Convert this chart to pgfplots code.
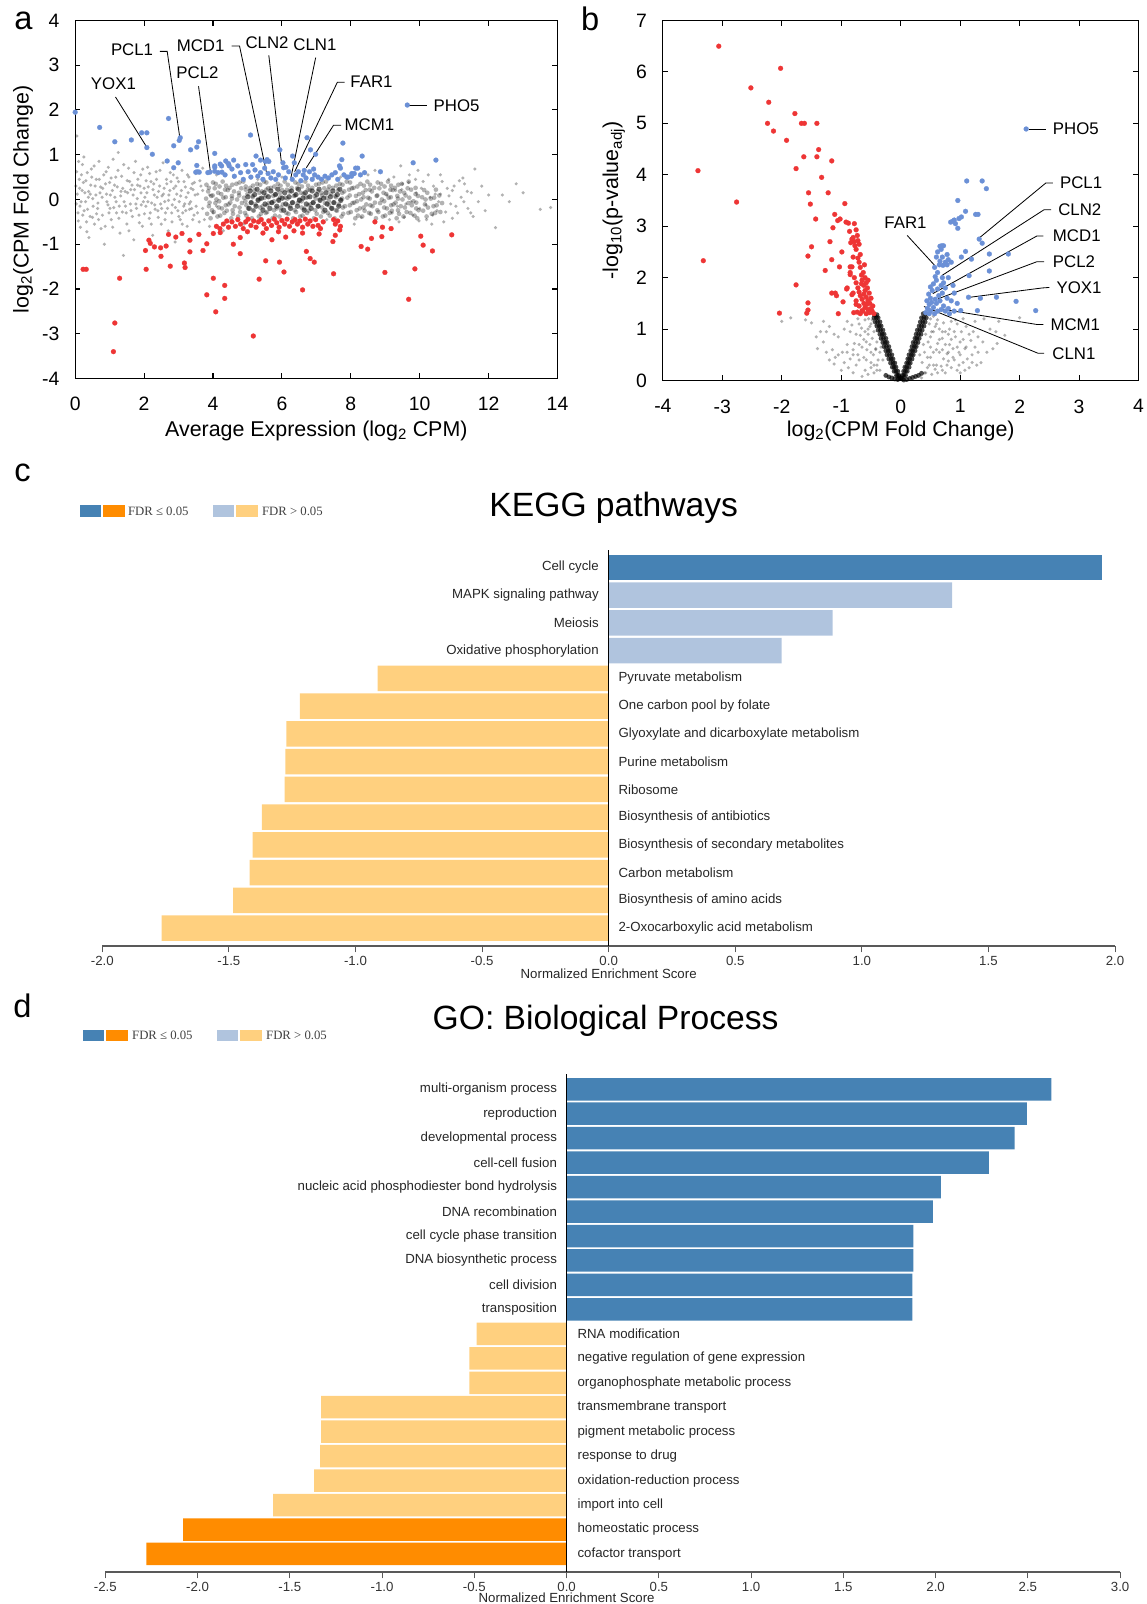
\documentclass[border=0pt]{standalone}
\usepackage{pgfplots}
\pgfplotsset{compat=1.18}
\usepackage{fontspec}
\setmainfont{Liberation Sans}
\newfontfamily\legserif{Liberation Serif}
\definecolor{kdb}{HTML}{4682B4}
\definecolor{klb}{HTML}{B0C4DE}
\definecolor{klo}{HTML}{FFD07F}
\definecolor{kdo}{HTML}{FF8C00}
\definecolor{dotb}{HTML}{6B90D6}
\definecolor{dotr}{HTML}{EE3535}
\newcommand{\fs}[1]{\fontsize{#1}{#1}\selectfont}
\tikzset{
  lead/.style={draw=black, line width=0.8bp},
  ann/.style={font=\fs{16.5}},
  bl/.style={font=\fs{13}, text=black!85},
}
\pgfplotsset{
  scat/.style={scale only axis, anchor=south west, clip=false,
    tick align=inside, major tick length=5bp,
    axis line style={line width=1.2bp},
    every tick/.style={black, line width=1bp},
    tick label style={font=\fs{19}},
    /pgf/number format/assume math mode=true,
    xticklabel style={yshift=-15bp}, yticklabel style={xshift=-12bp},
    label style={font=\fs{21}}},
  gsp/.style={only marks, mark=*, mark size=1.7bp, mark options={fill=black, draw=black, draw opacity=0, fill opacity=0.3}},
  gmd/.style={only marks, mark=*, mark size=2.3bp, mark options={fill=black, draw=black, draw opacity=0, fill opacity=0.3}},
  gdk/.style={only marks, mark=*, mark size=2.6bp, mark options={fill=black, draw=black, draw opacity=0, fill opacity=0.55}},
  bdot/.style={only marks, mark=*, mark size=2.4bp, mark options={fill=dotb, draw=dotb, line width=0.2bp}},
  rdot/.style={only marks, mark=*, mark size=2.4bp, mark options={fill=dotr, draw=dotr, line width=0.2bp}},
  bars/.style={scale only axis, anchor=south west, clip=false,
    axis x line=bottom, axis y line=none,
    x axis line style={-, draw=black!65, line width=2.2bp},
    xtick style={draw=black!65, line width=1bp}, tick align=outside, major tick length=6bp,
    tick label style={font=\fs{13}, text=black!80},
    /pgf/number format/assume math mode=true,
    xticklabel style={/pgf/number format/.cd, fixed, fixed zerofill, precision=1},
    ytick=\empty},
  bar/.style={xbar, bar width=0.92, bar shift=0pt, draw=none},
}
\begin{document}
\begin{tikzpicture}
\useasboundingbox (0,0) rectangle (1121bp,-1568bp);
% ---------------- panel a
\begin{axis}[scat, at={(73.5bp,-370bp)}, width=471.5bp, height=350bp,
  xmin=0, xmax=14, ymin=-4, ymax=4, xtick={0,2,...,14}, ytick={-4,...,4},
  xlabel={Average Expression (log\textsubscript{2} CPM)},
  ylabel={log\textsubscript{2}(CPM Fold Change)},
  every axis x label/.style={at={(axis description cs:0.5,0)}, anchor=center, yshift=-51bp, font=\fs{21}},
  every axis y label/.style={at={(axis description cs:0,0.5)}, rotate=90, anchor=center, yshift=51bp, font=\fs{21}}]
\addplot[gsp] coordinates {
(0.05,1.42)(0.1,0.85)(0.12,0.45)(0.08,-0.3)(0.15,-0.62)(0.2,0.2)(0.25,0.95)(0.3,-0.05)(0.35,0.6)(0.4,-0.85)(0.45,0.32)(0.5,-0.4)(0.55,0.75)(0.6,0.1)(0.65,-0.2)(0.7,0.45)(0.75,-0.65)(0.8,0.25)(0.85,-1.0)(0.9,0.62)(0.95,-0.12)(1.0,0.38)(1.05,-0.45)(1.1,0.9)(1.15,0.05)(1.2,-0.3)(1.25,1.05)(1.3,-0.75)(1.35,0.52)(1.4,-1.25)(1.45,0.18)(1.5,-0.55)(1.55,0.7)(1.6,-0.1)(1.65,0.32)(1.7,-0.9)(1.75,0.85)(1.8,0.02)(1.85,-0.35)(1.9,0.55)(1.95,-0.6)(2.0,0.25)(2.05,-0.15)(2.1,0.72)(2.15,-0.42)(2.2,0.4)(2.25,-0.8)(2.3,0.1)(2.35,0.62)(2.4,-0.25)(2.45,0.3)(2.5,-0.55)(2.55,0.82)(2.6,-0.05)(2.65,0.45)(2.7,-0.7)(2.75,0.2)(2.8,-0.3)(2.85,0.55)(2.9,-0.95)(2.95,0.12)(3.0,0.4)(3.05,-0.45)(3.1,0.65)(3.15,-0.15)(3.2,0.28)(3.25,-0.6)(3.3,0.5)(3.35,-0.05)(3.4,0.35)(3.45,-0.35)(3.5,0.58)
(0.02,0.3)(0.03,-0.1)(0.18,0.55)(0.22,-0.35)(0.28,0.15)(0.33,-0.5)(0.38,0.05)(0.48,0.5)(0.52,-0.15)(0.58,0.3)(0.68,-0.45)(0.72,0.15)(0.88,0.35)(0.98,-0.3)(1.08,0.2)(1.18,0.5)(1.28,-0.15)(1.38,0.25)(1.48,-0.3)(1.58,0.4)(1.68,0.1)(1.78,-0.2)(1.88,0.3)(1.98,-0.05)(2.08,0.15)(2.18,-0.3)(2.28,0.35)(2.38,0.05)(2.48,-0.1)(2.58,0.25)(2.68,-0.2)(2.78,0.4)(2.88,0.0)(2.98,-0.25)(3.08,0.2)(3.18,-0.1)(3.28,0.15)(3.38,-0.2)(3.48,0.1)
(0.06,0.12)(0.14,-0.15)(0.24,0.38)(0.36,-0.22)(0.44,0.12)(0.62,-0.32)(0.78,0.05)(0.92,-0.05)(1.02,0.1)(1.12,-0.18)(1.22,0.28)(1.32,0.08)(1.42,-0.05)(1.52,0.15)(1.62,-0.25)(1.72,0.22)(1.82,0.45)(1.92,-0.12)(2.02,0.05)(2.12,0.28)(2.22,-0.08)(2.32,-0.22)(2.42,0.18)(2.52,0.08)(2.62,-0.3)(2.72,0.1)(2.82,-0.12)(2.92,0.3)(3.02,-0.05)(3.12,-0.3)(3.22,0.05)(3.32,-0.22)(3.42,0.22)
(0.04,0.62)(0.09,-0.48)(0.13,0.25)(0.17,-0.05)(0.21,0.78)(0.26,-0.25)(0.31,0.42)(0.34,-0.72)(0.39,0.18)(0.43,-0.38)(0.47,0.68)(0.51,0.02)(0.56,-0.55)(0.61,0.45)(0.66,-0.08)(0.69,0.85)(0.74,0.28)(0.79,-0.35)(0.83,0.55)(0.87,-0.6)(0.91,0.12)(0.96,0.72)(1.01,-0.2)(1.04,0.48)(1.09,-0.62)(1.14,0.32)(1.19,-0.05)(1.24,0.65)(1.27,-0.42)(1.33,0.18)(1.37,-0.28)(1.41,0.78)(1.46,-0.15)(1.51,0.42)(1.56,-0.7)(1.61,0.22)(1.66,-0.38)(1.71,0.6)(1.76,-0.1)(1.81,0.32)(1.86,-0.52)(1.91,0.15)(1.96,0.68)(2.01,-0.32)(2.06,0.42)(2.11,-0.05)(2.16,0.58)(2.21,-0.55)(2.26,0.22)(2.31,-0.12)(2.36,0.45)(2.41,-0.4)(2.46,0.65)(2.51,-0.2)(2.56,0.12)(2.61,-0.45)(2.66,0.35)(2.71,-0.02)(2.76,0.6)(2.81,-0.5)(2.86,0.25)(2.91,-0.18)(2.96,0.48)(3.01,-0.38)(3.06,0.08)(3.11,-0.55)(3.16,0.4)(3.21,-0.25)(3.26,0.55)(3.31,-0.1)(3.36,0.25)(3.41,-0.45)(3.46,0.38)(3.51,-0.15)(3.56,0.12)(3.6,-0.5)(3.65,0.3)(3.7,-0.2)
(9.1,0.45)(9.2,-0.3)(9.3,0.2)(9.4,-0.5)(9.5,0.35)(9.6,-0.1)(9.7,0.55)(9.8,-0.35)(9.9,0.15)(10.0,-0.2)(10.1,0.4)(10.2,-0.45)(10.3,0.05)(10.4,0.3)(10.5,-0.25)(10.6,0.12)(10.7,-0.5)(10.8,0.25)(10.9,-0.1)(11.0,0.3)(11.1,-0.3)(11.2,0.05)(11.3,0.35)(11.4,-0.2)(11.5,0.15)(11.6,0.68)(11.7,-0.05)(11.8,0.3)(11.9,-0.25)(12.0,0.1)(12.2,-0.63)(12.4,0.1)(12.6,-0.05)(12.8,0.35)(13.0,0.15)(13.5,-0.22)(13.8,-0.18)(9.95,0.65)(10.35,-0.55)(9.45,0.75)(9.15,-0.65)(10.6,0.55)(10.95,-0.42)(11.25,0.48)(11.55,-0.38)
(9.05,0.1)(9.12,-0.45)(9.25,0.5)(9.35,-0.15)(9.48,0.22)(9.55,-0.4)(9.68,0.38)(9.75,-0.05)(9.88,0.45)(9.98,-0.48)(10.05,0.25)(10.18,-0.12)(10.25,0.55)(10.38,-0.35)(10.45,0.12)(10.55,-0.05)(10.65,0.4)(10.75,-0.28)(10.85,0.08)(10.95,0.2)(11.05,-0.15)(11.15,0.42)(11.28,-0.05)(11.38,0.18)(11.48,-0.3)
(3.7,0.7)(3.9,-0.6)(4.1,0.55)(4.3,-0.7)(4.6,0.5)(4.9,-0.55)(5.3,0.45)(5.6,-0.45)(6.0,0.5)(6.4,-0.5)(6.9,0.48)(7.3,-0.45)(7.7,0.5)(8.1,-0.55)(8.5,0.55)(8.9,-0.6)(8.7,0.65)(8.3,-0.4)(3.6,-0.8)(4.4,0.8)(4.0,-0.3)(3.7,0.2)(3.9,0.1)(4.1,-0.15)(3.55,-0.3)(3.62,0.42)(3.75,-0.45)
};
\addplot[gmd] coordinates {
(3.83,-0.32)(3.88,-0.15)(3.80,0.02)(3.86,0.18)(3.81,0.33)
(4.02,-0.28)(4.07,-0.08)(3.99,0.09)(4.05,0.25)(4.00,0.38)
(4.21,-0.36)(4.26,-0.20)(4.18,-0.04)(4.24,0.12)(4.19,0.29)
(4.40,-0.25)(4.45,-0.11)(4.37,0.05)(4.43,0.21)(4.38,0.31)
(4.58,-0.32)(4.63,-0.15)(4.55,0.02)(4.61,0.18)(4.56,0.33)
(4.79,-0.28)(4.84,-0.08)(4.76,0.09)(4.82,0.25)(4.77,0.38)
(4.97,-0.36)(5.02,-0.20)(4.94,-0.04)(5.00,0.12)(4.95,0.29)
(5.18,-0.25)(5.23,-0.11)(5.15,0.05)(5.21,0.21)(5.16,0.31)
(5.39,-0.32)(5.44,-0.15)(5.36,0.02)(5.42,0.18)(5.37,0.33)
(5.57,-0.28)(5.62,-0.08)(5.54,0.09)(5.60,0.25)(5.55,0.38)
(5.80,-0.36)(5.85,-0.20)(5.77,-0.04)(5.83,0.12)(5.78,0.29)
(5.98,-0.25)(6.03,-0.11)(5.95,0.05)(6.01,0.21)(5.96,0.31)
(6.19,-0.32)(6.24,-0.15)(6.16,0.02)(6.22,0.18)(6.17,0.33)
(6.41,-0.28)(6.46,-0.08)(6.38,0.09)(6.44,0.25)(6.39,0.38)
(6.60,-0.36)(6.65,-0.20)(6.57,-0.04)(6.63,0.12)(6.58,0.29)
(6.78,-0.25)(6.83,-0.11)(6.75,0.05)(6.81,0.21)(6.76,0.31)
(7.01,-0.32)(7.06,-0.15)(6.98,0.02)(7.04,0.18)(6.99,0.33)
(7.20,-0.28)(7.25,-0.08)(7.17,0.09)(7.23,0.25)(7.18,0.38)
(7.39,-0.36)(7.44,-0.20)(7.36,-0.04)(7.42,0.12)(7.37,0.29)
(7.60,-0.25)(7.65,-0.11)(7.57,0.05)(7.63,0.21)(7.58,0.31)
(7.78,-0.32)(7.83,-0.15)(7.75,0.02)(7.81,0.18)(7.76,0.33)
(8.00,-0.28)(8.05,-0.08)(7.97,0.09)(8.03,0.25)(7.98,0.38)
(8.21,-0.36)(8.26,-0.20)(8.18,-0.04)(8.24,0.12)(8.19,0.29)
(8.40,-0.25)(8.45,-0.11)(8.37,0.05)(8.43,0.21)(8.38,0.31)
(8.58,-0.32)(8.63,-0.15)(8.55,0.02)(8.61,0.18)(8.56,0.33)
(8.80,-0.28)(8.85,-0.08)(8.77,0.09)(8.83,0.25)(8.78,0.38)
(9.00,-0.36)(9.05,-0.20)(8.97,-0.04)(9.03,0.12)(8.98,0.29)
(9.19,-0.25)(9.24,-0.11)(9.16,0.05)(9.22,0.21)(9.17,0.31)
(9.40,-0.32)(9.45,-0.15)(9.37,0.02)(9.43,0.18)(9.38,0.33)
(9.62,-0.28)(9.67,-0.08)(9.59,0.09)(9.65,0.25)
(9.85,-0.36)(9.90,-0.20)(9.82,-0.04)(9.88,0.12)
(10.10,-0.25)(10.15,-0.11)(10.07,0.05)(10.13,0.21)
(10.35,-0.32)(10.40,-0.15)(10.32,0.02)
(10.60,-0.28)(10.65,-0.08)(10.57,0.09)
(3.93,-0.42)(3.97,-0.24)(3.90,-0.07)(3.95,0.08)(3.88,0.26)
(4.13,-0.38)(4.17,-0.18)(4.10,0.00)(4.15,0.15)(4.08,0.35)
(4.33,-0.30)(4.37,-0.13)(4.30,0.04)(4.35,0.22)(4.28,0.40)
(4.53,-0.42)(4.57,-0.24)(4.50,-0.07)(4.55,0.08)(4.48,0.26)
(4.73,-0.38)(4.77,-0.18)(4.70,0.00)(4.75,0.15)(4.68,0.35)
(4.93,-0.30)(4.97,-0.13)(4.90,0.04)(4.95,0.22)(4.88,0.40)
(5.13,-0.42)(5.17,-0.24)(5.10,-0.07)(5.15,0.08)(5.08,0.26)
(5.33,-0.38)(5.37,-0.18)(5.30,0.00)(5.35,0.15)(5.28,0.35)
(5.53,-0.30)(5.57,-0.13)(5.50,0.04)(5.55,0.22)(5.48,0.40)
(5.73,-0.42)(5.77,-0.24)(5.70,-0.07)(5.75,0.08)(5.68,0.26)
(5.93,-0.38)(5.97,-0.18)(5.90,0.00)(5.95,0.15)(5.88,0.35)
(6.13,-0.30)(6.17,-0.13)(6.10,0.04)(6.15,0.22)(6.08,0.40)
(6.33,-0.42)(6.37,-0.24)(6.30,-0.07)(6.35,0.08)(6.28,0.26)
(6.53,-0.38)(6.57,-0.18)(6.50,0.00)(6.55,0.15)(6.48,0.35)
(6.73,-0.30)(6.77,-0.13)(6.70,0.04)(6.75,0.22)(6.68,0.40)
(6.93,-0.42)(6.97,-0.24)(6.90,-0.07)(6.95,0.08)(6.88,0.26)
(7.13,-0.38)(7.17,-0.18)(7.10,0.00)(7.15,0.15)(7.08,0.35)
(7.33,-0.30)(7.37,-0.13)(7.30,0.04)(7.35,0.22)(7.28,0.40)
(7.53,-0.42)(7.57,-0.24)(7.50,-0.07)(7.55,0.08)(7.48,0.26)
(7.73,-0.38)(7.77,-0.18)(7.70,0.00)(7.75,0.15)(7.68,0.35)
(7.93,-0.30)(7.97,-0.13)(7.90,0.04)(7.95,0.22)(7.88,0.40)
(8.13,-0.42)(8.17,-0.24)(8.10,-0.07)(8.15,0.08)(8.08,0.26)
(8.33,-0.38)(8.37,-0.18)(8.30,0.00)(8.35,0.15)(8.28,0.35)
(8.53,-0.30)(8.57,-0.13)(8.50,0.04)(8.55,0.22)(8.48,0.40)
(8.73,-0.42)(8.77,-0.24)(8.70,-0.07)(8.75,0.08)(8.68,0.26)
(8.93,-0.38)(8.97,-0.18)(8.90,0.00)(8.95,0.15)(8.88,0.35)
(9.13,-0.30)(9.17,-0.13)(9.10,0.04)(9.15,0.22)(9.08,0.40)
(9.33,-0.42)(9.37,-0.24)(9.30,-0.07)(9.35,0.08)(9.28,0.26)
(9.53,-0.38)(9.57,-0.18)(9.50,0.00)(9.55,0.15)(9.48,0.35)
(9.73,-0.30)(9.77,-0.13)(9.70,0.04)(9.75,0.22)(9.68,0.40)
(9.93,-0.42)(9.97,-0.24)(9.90,-0.07)(9.95,0.08)(9.88,0.26)
(10.20,-0.38)(10.24,-0.18)(10.17,0.00)(10.22,0.15)
(10.45,-0.30)(10.49,-0.13)(10.42,0.04)(10.47,0.22)
};
\addplot[gdk] coordinates {
(5.05,-0.20)(5.11,-0.07)(5.01,0.06)(5.08,0.19)
(5.25,-0.15)(5.31,-0.02)(5.21,0.11)(5.28,0.23)
(5.45,-0.24)(5.51,-0.10)(5.41,0.03)(5.48,0.15)
(5.65,-0.20)(5.71,-0.07)(5.61,0.06)(5.68,0.19)
(5.85,-0.15)(5.91,-0.02)(5.81,0.11)(5.88,0.23)
(6.05,-0.24)(6.11,-0.10)(6.01,0.03)(6.08,0.15)
(6.25,-0.20)(6.31,-0.07)(6.21,0.06)(6.28,0.19)
(6.45,-0.15)(6.51,-0.02)(6.41,0.11)(6.48,0.23)
(6.65,-0.24)(6.71,-0.10)(6.61,0.03)(6.68,0.15)
(6.85,-0.20)(6.91,-0.07)(6.81,0.06)(6.88,0.19)
(7.05,-0.15)(7.11,-0.02)(7.01,0.11)(7.08,0.23)
(7.25,-0.24)(7.31,-0.10)(7.21,0.03)(7.28,0.15)
(7.45,-0.20)(7.51,-0.07)(7.41,0.06)(7.48,0.19)
(7.65,-0.15)(7.71,-0.02)(7.61,0.11)(7.68,0.23)
};
\addplot[bdot] coordinates {
(0.0,1.95)(0.71,1.61)(1.15,1.29)(1.63,1.33)(1.93,1.49)(2.08,1.49)(2.08,1.16)(2.24,1.01)(2.71,1.81)(2.67,0.86)(2.86,1.2)(2.99,0.82)(3.05,1.38)(3.02,1.32)(2.86,0.71)(3.35,1.11)(3.53,1.17)(3.58,1.29)(3.53,0.76)(3.5,0.61)(3.6,0.61)(3.91,0.61)(4.05,1.03)(4.05,0.75)(4.21,0.79)(4.37,0.86)(4.47,0.75)(4.05,0.63)(4.26,0.61)(5.09,1.44)(5.25,0.97)(5.57,0.89)(5.62,0.85)(5.94,1.11)(6.03,0.82)(6.05,0.71)(6.31,0.97)(6.36,0.82)(6.73,1.38)(6.83,1.11)(6.98,1.01)(7.77,1.26)(7.74,0.89)(7.67,0.75)(8.33,0.97)(8.14,0.7)(8.03,0.58)(7.88,0.5)(8.86,0.62)(9.81,0.82)(10.47,0.88)(9.64,2.11)
(3.55,0.62)(3.85,0.6)(4.05,0.72)(4.15,0.6)(4.25,0.75)(4.35,0.55)(4.45,0.8)(4.55,0.68)(4.62,0.52)(4.72,0.75)(4.8,0.6)(4.88,0.45)(4.95,0.78)(5.02,0.62)(5.1,0.5)(5.15,0.78)(5.22,0.66)(5.3,0.52)(5.38,0.6)(5.45,0.45)(5.5,0.7)(5.6,0.58)(5.68,0.48)(5.75,0.62)(5.82,0.45)(5.9,0.55)(6.1,0.48)(6.2,0.62)(6.3,0.45)(6.4,0.55)(6.48,0.62)(6.55,0.42)(6.62,0.55)(6.7,0.48)(6.8,0.62)(6.88,0.45)(6.95,0.55)(7.05,0.5)(7.15,0.45)(7.25,0.52)(7.35,0.48)(7.45,0.55)(7.55,0.6)(7.62,0.45)(7.7,0.7)(7.8,0.55)(7.92,0.5)(8.02,0.52)(8.1,0.58)(8.2,0.7)(8.28,0.55)(8.4,0.6)(5.52,0.85)(5.38,0.88)(6.12,0.72)(6.65,0.65)(6.92,0.68)(4.6,0.88)
};
\addplot[rdot] coordinates {
(0.23,-1.56)(0.32,-1.56)(1.15,-2.76)(1.11,-3.40)(1.29,-1.76)(2.04,-1.14)(2.06,-1.56)(2.14,-0.91)(2.18,-0.98)(2.30,-1.06)(2.48,-1.08)(2.49,-1.27)(2.64,-1.04)(2.71,-0.78)(2.76,-1.49)(2.92,-0.84)(3.10,-0.76)(3.17,-1.42)(3.19,-1.52)(3.33,-0.91)(3.33,-1.17)(3.59,-0.78)(3.71,-1.14)(3.82,-0.99)(3.82,-2.13)(4.01,-1.76)(4.01,-0.76)(4.08,-2.51)(4.21,-0.74)(4.34,-1.92)(4.34,-2.21)(4.59,-1.00)(4.79,-0.85)(4.79,-1.21)(5.17,-3.05)(5.34,-1.78)(5.53,-1.37)(5.71,-0.90)(5.93,-1.40)(6.06,-1.62)(6.11,-0.84)(6.60,-2.02)(6.71,-1.16)(6.82,-1.32)(6.94,-1.40)(7.08,-0.77)(7.50,-1.66)(7.48,-0.94)(7.55,-0.80)(7.68,-0.68)(8.30,-1.05)(8.49,-1.11)(8.60,-0.87)(8.70,-0.50)(8.90,-0.83)(8.92,-0.62)(8.99,-1.63)(9.17,-0.65)(9.68,-2.23)(9.86,-1.55)(10.03,-0.82)(10.10,-1.02)(10.37,-1.15)(10.93,-0.79)
(4.3,-0.55)(4.4,-0.48)(4.45,-0.62)(4.55,-0.5)(4.65,-0.6)(4.72,-0.45)(4.8,-0.55)(4.88,-0.65)(4.95,-0.5)(5.02,-0.44)(5.1,-0.58)(5.18,-0.48)(5.25,-0.62)(5.32,-0.5)(5.4,-0.45)(5.48,-0.55)(5.55,-0.65)(5.62,-0.48)(5.7,-0.58)(5.78,-0.44)(5.85,-0.52)(5.92,-0.62)(6.0,-0.47)(6.08,-0.55)(6.15,-0.44)(6.22,-0.6)(6.3,-0.5)(6.38,-0.45)(6.45,-0.55)(6.52,-0.48)(6.6,-0.62)(6.68,-0.44)(6.75,-0.55)(6.82,-0.48)(6.9,-0.6)(6.98,-0.45)(7.05,-0.58)(7.12,-0.65)(7.2,-0.5)(7.5,-0.45)(7.55,-0.55)(7.62,-0.48)(7.7,-0.6)(5.0,-0.72)(5.45,-0.75)(5.9,-0.72)(6.35,-0.7)(6.6,-0.75)(4.2,-0.65)(4.1,-0.6)
};
% annotations a
\node[ann] at (axis cs:1.11,2.58) {YOX1};
\draw[lead] (axis cs:1.17,2.29) -- (axis cs:2.06,1.19);
\node[ann] at (axis cs:1.65,3.34) {PCL1};
\draw[lead] (axis cs:2.46,3.31) -- (axis cs:2.67,3.31) -- (axis cs:3.03,1.42);
\node[ann] at (axis cs:3.64,3.43) {MCD1};
\draw[lead] (axis cs:4.54,3.43) -- (axis cs:4.77,3.43) -- (axis cs:5.57,0.54);
\node[ann] at (axis cs:3.55,2.83) {PCL2};
\draw[lead] (axis cs:3.58,2.53) -- (axis cs:3.92,0.65);
\node[ann] at (axis cs:5.57,3.50) {CLN2};
\draw[lead] (axis cs:5.62,3.22) -- (axis cs:5.99,0.80);
\node[ann] at (axis cs:6.96,3.45) {CLN1};
\draw[lead] (axis cs:6.98,3.17) -- (axis cs:6.26,0.48);
\node[ann] at (axis cs:8.60,2.63) {FAR1};
\draw[lead] (axis cs:7.82,2.62) -- (axis cs:7.61,2.62) -- (axis cs:6.37,0.62);
\node[ann] at (axis cs:8.54,1.67) {MCM1};
\draw[lead] (axis cs:7.72,1.66) -- (axis cs:7.50,1.66) -- (axis cs:6.71,0.71);
\node[ann, anchor=west] at (axis cs:10.3,2.1) {PHO5};
\draw[lead] (axis cs:9.7,2.1) -- (axis cs:10.22,2.1);
\end{axis}
% ---------------- panel b
\begin{axis}[scat, at={(648bp,-372bp)}, width=465bp, height=352bp,
  xmin=-4, xmax=4, ymin=0, ymax=7, xtick={-4,...,4}, ytick={0,...,7},
  xlabel={log\textsubscript{2}(CPM Fold Change)},
  ylabel={-log\textsubscript{10}(p-value\textsubscript{adj})},
  every axis x label/.style={at={(axis description cs:0.5,0)}, anchor=center, yshift=-49bp, font=\fs{21}},
  every axis y label/.style={at={(axis description cs:0,0.5)}, rotate=90, anchor=center, yshift=48bp, font=\fs{21}}]
\addplot[gsp] coordinates {
(-1.6,1.18)(-1.5,1.12)(-1.3,1.15)(-1.2,1.05)(-1.42,0.85)(-1.3,0.75)(-1.25,0.55)(-1.15,0.6)(-1.1,0.45)(-1.05,0.85)(-0.95,0.35)(-0.9,0.7)(-0.85,0.95)(-0.8,0.5)(-0.75,0.3)(-0.7,1.1)(-0.65,0.65)(-0.6,0.2)(-0.55,0.9)(-0.9,1.15)(-1.0,0.2)(-0.8,0.15)(-0.7,0.4)(-0.62,0.45)(-0.58,0.75)(-0.5,0.55)(-0.45,0.3)(-1.35,0.95)(-1.12,0.32)(-0.98,0.55)(-0.88,0.25)(-0.78,0.72)(-0.68,0.88)(-0.52,1.05)(-1.85,1.22)(-1.4,0.62)(-1.2,0.4)(-1.05,0.5)(-2.0,1.15)(-1.25,0.95)(-0.95,1.0)(-0.72,1.2)(-0.6,1.18)(-0.82,1.08)(-1.12,0.9)(-0.5,0.35)(-0.42,0.6)(-0.55,0.12)(-0.65,0.08)(-0.4,0.2)
(0.6,0.3)(0.7,0.6)(0.8,0.9)(0.9,0.4)(1.0,0.75)(1.1,1.05)(1.2,0.5)(1.3,0.85)(1.4,1.2)(1.5,1.0)(1.55,0.62)(1.62,0.72)(1.35,0.35)(1.15,0.25)(0.95,0.2)(0.75,0.15)(0.65,1.0)(0.85,1.15)(0.55,0.55)(0.5,0.85)(1.05,0.35)(1.25,0.65)(1.45,0.55)(0.72,0.42)(0.88,0.62)(1.02,0.95)(1.18,0.78)(0.62,0.72)(0.58,0.22)(0.8,0.38)(2.0,1.22)(1.65,1.15)(1.75,0.88)(0.45,0.45)(0.5,0.65)(0.55,0.95)(0.6,1.1)(0.68,0.28)(0.78,0.52)(0.92,0.85)(0.98,0.55)(1.08,0.62)(1.12,0.42)(1.22,0.95)(1.28,0.3)(1.38,0.75)(0.7,0.82)(0.82,0.7)(0.95,1.1)(0.48,0.3)(0.42,0.15)(0.52,0.12)(0.65,0.55)(0.75,0.95)(0.85,0.25)(1.0,0.15)(1.6,0.95)(1.25,1.15)(1.05,1.2)
(-0.35,0.55)(-0.4,0.75)(-0.45,0.95)(-0.5,1.1)(-0.38,0.4)(-0.42,0.62)(-0.48,0.82)(-0.55,1.0)(-0.6,0.95)(-0.52,0.7)(-0.46,0.5)(-0.4,0.3)(-0.35,0.2)(-0.3,0.4)(-0.33,0.65)(-0.57,0.6)(-0.62,0.8)(-0.66,1.02)(-0.7,0.7)(-0.58,0.4)(-0.5,0.25)(-0.45,0.15)(-0.54,1.2)(-0.48,1.18)(-0.42,1.08)(-0.75,0.9)(-0.8,0.6)(-0.85,0.42)(-0.9,0.55)(-0.72,0.5)
(0.32,0.5)(0.38,0.7)(0.42,0.9)(0.48,1.1)(0.36,0.35)(0.4,0.55)(0.46,0.75)(0.52,0.95)(0.58,1.05)(0.5,0.45)(0.45,0.25)(0.55,0.3)(0.6,0.6)(0.65,0.8)(0.7,0.95)(0.75,0.7)(0.8,0.55)(0.85,0.8)(0.9,0.95)(0.95,0.65)(1.0,0.5)(1.05,0.8)(1.1,0.65)(1.15,0.9)(0.62,0.15)(0.7,0.2)(0.78,0.3)(0.88,0.45)(0.98,0.3)(1.08,0.2)(0.5,1.2)(0.55,1.25)(0.62,1.18)(0.72,1.12)(0.82,1.0)(0.92,1.18)(1.2,0.35)(1.3,0.55)(0.4,0.15)(0.35,0.05)
};
\addplot[only marks, mark=*, mark size=2.4bp, mark options={fill=black, draw=black, draw opacity=0, fill opacity=0.7}] coordinates {
(-0.01,0.04)(-0.03,0.04)(-0.03,0.1)(-0.05,0.1)(-0.07,0.1)(-0.05,0.18)(-0.08,0.18)(-0.11,0.18)(-0.08,0.26)(-0.11,0.26)(-0.14,0.26)(-0.1,0.34)(-0.13,0.34)(-0.17,0.34)(-0.13,0.42)(-0.16,0.42)(-0.2,0.42)(-0.15,0.5)(-0.19,0.5)(-0.23,0.5)(-0.18,0.58)(-0.21,0.58)(-0.25,0.58)(-0.2,0.66)(-0.24,0.66)(-0.28,0.66)(-0.23,0.74)(-0.26,0.74)(-0.3,0.74)(-0.25,0.82)(-0.29,0.82)(-0.33,0.82)(-0.28,0.9)(-0.31,0.9)(-0.35,0.9)(-0.3,0.98)(-0.34,0.98)(-0.38,0.98)(-0.33,1.06)(-0.36,1.06)(-0.4,1.06)(-0.35,1.14)(-0.39,1.14)(-0.43,1.14)(-0.38,1.22)(-0.41,1.22)(-0.45,1.22)(-0.4,1.28)(-0.44,1.28)
(0.01,0.04)(0.03,0.04)(0.03,0.1)(0.05,0.1)(0.08,0.1)(0.05,0.18)(0.08,0.18)(0.11,0.18)(0.07,0.26)(0.1,0.26)(0.14,0.26)(0.1,0.34)(0.13,0.34)(0.16,0.34)(0.12,0.42)(0.15,0.42)(0.19,0.42)(0.14,0.5)(0.18,0.5)(0.21,0.5)(0.17,0.58)(0.2,0.58)(0.24,0.58)(0.19,0.66)(0.23,0.66)(0.26,0.66)(0.21,0.74)(0.25,0.74)(0.29,0.74)(0.24,0.82)(0.27,0.82)(0.31,0.82)(0.26,0.9)(0.3,0.9)(0.34,0.9)(0.28,0.98)(0.32,0.98)(0.36,0.98)(0.31,1.06)(0.35,1.06)(0.39,1.06)(0.33,1.14)(0.37,1.14)(0.41,1.14)(0.35,1.22)(0.39,1.22)(0.43,1.22)(0.38,1.3)(0.42,1.3)
(-0.15,0.05)(-0.1,0.03)(0.1,0.02)(0.15,0.04)(0.2,0.06)(0.25,0.08)(-0.2,0.07)(0.3,0.1)(0.05,0.01)(-0.05,0.02)(-0.25,0.1)(0.35,0.14)
};
\addplot[rdot] coordinates {
(-3.06,6.50)(-3.41,4.08)(-3.32,2.33)(-2.76,3.47)(-2.52,5.69)(-2.22,5.41)(-2.24,5.00)(-2.14,4.85)(-2.02,6.07)(-2.04,1.31)(-1.92,4.67)(-1.78,5.19)(-1.76,4.12)(-1.76,1.86)(-1.67,5.00)(-1.62,5.00)(-1.63,4.35)(-1.55,3.65)(-1.52,3.43)(-1.56,1.51)(-1.58,1.31)(-1.56,1.37)(-1.50,2.60)(-1.56,2.42)(-1.43,3.14)(-1.41,5.00)(-1.38,4.49)(-1.41,4.35)(-1.33,3.95)(-1.27,2.14)(-1.22,3.65)(-1.19,2.70)(-1.16,4.27)(-1.16,2.35)(-1.14,2.97)(-1.16,1.70)(-1.10,1.70)(-1.08,1.65)(-1.11,3.23)(-1.06,3.11)(-1.02,3.14)(-1.03,2.21)(-1.05,1.30)(-0.99,2.50)(-0.97,1.53)(-0.94,3.44)(-0.92,3.08)(-0.88,3.06)(-0.91,1.78)(-0.85,2.21)(-0.82,2.21)(-0.86,2.90)(-0.82,1.67)(-0.78,3.05)(-0.75,2.93)(-0.79,1.32)(-0.75,1.48)(-0.85,2.06)(-0.65,1.36)(-0.84,2.68)(-0.8,2.78)(-0.77,2.62)(-0.72,2.72)
(-0.45,1.3)(-0.48,1.35)(-0.5,1.4)(-0.47,1.45)(-0.52,1.5)(-0.55,1.55)(-0.5,1.6)(-0.58,1.62)(-0.53,1.7)(-0.6,1.75)(-0.56,1.8)(-0.62,1.85)(-0.58,1.9)(-0.65,1.95)(-0.6,2.0)(-0.66,2.05)(-0.63,2.1)(-0.68,2.2)(-0.7,2.3)(-0.72,2.38)(-0.68,2.45)(-0.75,2.55)(-0.52,1.32)(-0.55,1.38)(-0.6,1.42)(-0.62,1.5)(-0.65,1.58)(-0.68,1.65)(-0.7,1.72)(-0.72,1.8)(-0.75,1.9)(-0.78,2.0)(-0.58,1.3)(-0.64,1.35)(-0.7,1.45)(-0.75,1.55)(-0.8,1.7)(-0.62,1.68)(-0.57,1.48)(-0.66,1.88)(-0.55,1.95)(-0.61,2.25)(-0.7,2.65)(-0.78,2.7)(-0.82,2.75)(-0.73,2.82)(-0.8,2.4)(-0.85,2.1)(-0.9,1.8)(-0.68,1.3)(-0.73,1.33)
};
\addplot[bdot] coordinates {
(2.11,4.89)(1.11,3.88)(1.37,3.88)(1.44,3.73)(0.96,3.50)(1.09,3.29)(1.26,3.23)(1.30,3.23)(0.84,3.08)(0.88,3.10)(0.92,3.05)(0.98,3.15)(1.02,3.18)(0.9,3.12)(0.96,2.96)(1.32,2.75)(1.37,2.67)(0.66,2.61)(0.69,2.62)(0.62,2.5)(0.6,2.4)(0.66,2.32)(0.78,2.45)(0.8,2.35)(1.09,2.51)(1.02,2.40)(1.19,2.36)(1.49,2.46)(1.81,2.46)(1.15,2.04)(1.49,2.13)(1.14,1.62)(1.34,1.60)(1.61,1.62)(1.94,1.54)(2.27,1.36)(1.29,1.36)(1.01,1.36)(0.57,2.20)(0.71,2.24)
(0.42,1.32)(0.45,1.4)(0.48,1.48)(0.44,1.55)(0.5,1.6)(0.47,1.68)(0.53,1.75)(0.5,1.82)(0.55,1.88)(0.6,1.95)(0.58,2.02)(0.62,2.1)(0.5,1.35)(0.55,1.42)(0.6,1.5)(0.52,1.52)(0.58,1.58)(0.64,1.65)(0.62,1.78)(0.68,1.85)(0.72,1.9)(0.75,1.8)(0.7,1.7)(0.66,1.55)(0.72,1.45)(0.78,1.6)(0.8,1.4)(0.85,1.55)(0.9,1.7)(0.88,1.85)(0.95,1.5)(0.62,1.35)(0.68,1.38)(0.75,1.35)(0.82,1.3)(0.9,1.35)(0.57,1.3)(0.48,1.3)(0.7,2.0)(0.65,2.25)(0.75,2.3)(0.8,2.0)(0.78,2.25)(0.85,2.3)(0.7,2.4)(0.68,2.55)(0.72,2.62)
};
% annotations b
\node[ann, anchor=west] at (axis cs:2.5,4.89) {PHO5};
\draw[lead] (axis cs:2.15,4.89) -- (axis cs:2.45,4.89);
\node[ann, anchor=west] at (axis cs:2.62,3.84) {PCL1};
\draw[lead] (axis cs:2.56,3.84) -- (axis cs:2.44,3.84) -- (axis cs:1.34,2.79);
\node[ann, anchor=west] at (axis cs:2.59,3.32) {CLN2};
\draw[lead] (axis cs:2.53,3.32) -- (axis cs:2.41,3.32) -- (axis cs:0.69,2.04);
\node[ann, anchor=west] at (axis cs:2.50,2.81) {MCD1};
\draw[lead] (axis cs:2.40,2.81) -- (axis cs:2.29,2.81) -- (axis cs:0.54,1.69);
\node[ann, anchor=west] at (axis cs:2.50,2.31) {PCL2};
\draw[lead] (axis cs:2.41,2.31) -- (axis cs:2.29,2.31) -- (axis cs:0.63,1.59);
\node[ann, anchor=west] at (axis cs:2.56,1.81) {YOX1};
\draw[lead] (axis cs:2.50,1.81) -- (axis cs:2.38,1.80) -- (axis cs:1.17,1.62);
\node[ann, anchor=west] at (axis cs:2.46,1.09) {MCM1};
\draw[lead] (axis cs:2.40,1.09) -- (axis cs:2.29,1.09) -- (axis cs:0.68,1.39);
\node[ann, anchor=west] at (axis cs:2.49,0.53) {CLN1};
\draw[lead] (axis cs:2.41,0.53) -- (axis cs:2.31,0.53) -- (axis cs:0.39,1.44);
\node[ann] at (axis cs:0.08,3.06) {FAR1};
\draw[lead] (axis cs:0.11,2.82) -- (axis cs:0.57,2.24);
\end{axis}
% ---------------- panel c
\begin{axis}[bars, at={(100bp,-925bp)}, width=990bp, height=387bp,
  xmin=-2, xmax=2, ymin=-13.65, ymax=0.61, xtick={-2,-1.5,...,2}]
\addplot[bar, fill=kdb] coordinates {(1.947,0)};
\addplot[bar, fill=klb] coordinates {(1.357,-1)(0.885,-2)(0.683,-3)};
\addplot[bar, fill=klo] coordinates {(-0.913,-4)(-1.22,-5)(-1.273,-6)(-1.277,-7)(-1.28,-8)(-1.37,-9)(-1.406,-10)(-1.418,-11)(-1.483,-12)(-1.766,-13)};
\draw[black, line width=0.8bp] (axis cs:0,0.61) -- (axis cs:0,-13.65);
\node[bl, anchor=east] at (axis cs:-0.025,0) {Cell cycle};
\node[bl, anchor=east] at (axis cs:-0.025,-1) {MAPK signaling pathway};
\node[bl, anchor=east] at (axis cs:-0.025,-2) {Meiosis};
\node[bl, anchor=east] at (axis cs:-0.025,-3) {Oxidative phosphorylation};
\node[bl, anchor=west] at (axis cs:0.025,-4) {Pyruvate metabolism};
\node[bl, anchor=west] at (axis cs:0.025,-5) {One carbon pool by folate};
\node[bl, anchor=west] at (axis cs:0.025,-6) {Glyoxylate and dicarboxylate metabolism};
\node[bl, anchor=west] at (axis cs:0.025,-7) {Purine metabolism};
\node[bl, anchor=west] at (axis cs:0.025,-8) {Ribosome};
\node[bl, anchor=west] at (axis cs:0.025,-9) {Biosynthesis of antibiotics};
\node[bl, anchor=west] at (axis cs:0.025,-10) {Biosynthesis of secondary metabolites};
\node[bl, anchor=west] at (axis cs:0.025,-11) {Carbon metabolism};
\node[bl, anchor=west] at (axis cs:0.025,-12) {Biosynthesis of amino acids};
\node[bl, anchor=west] at (axis cs:0.025,-13) {2-Oxocarboxylic acid metabolism};
\node[bl, anchor=center, yshift=-27bp] at (axis cs:0,-13.65) {Normalized Enrichment Score};
\end{axis}
% ---------------- panel d
\begin{axis}[bars, at={(103bp,-1537bp)}, width=992bp, height=487bp,
  xmin=-2.5, xmax=3, ymin=-19.75, ymax=0.62, xtick={-2.5,-2,...,3}]
\addplot[bar, fill=kdb] coordinates {(2.627,0)(2.494,-1)(2.428,-2)(2.289,-3)(2.029,-4)(1.985,-5)(1.879,-6)(1.879,-7)(1.874,-8)(1.874,-9)};
\addplot[bar, fill=klo] coordinates {(-0.488,-10)(-0.527,-11)(-0.527,-12)(-1.33,-13)(-1.33,-14)(-1.336,-15)(-1.369,-16)(-1.591,-17)};
\addplot[bar, fill=kdo] coordinates {(-2.079,-18)(-2.278,-19)};
\draw[black, line width=0.8bp] (axis cs:0,0.62) -- (axis cs:0,-19.75);
\node[bl, anchor=east] at (axis cs:-0.033,0) {multi-organism process};
\node[bl, anchor=east] at (axis cs:-0.033,-1) {reproduction};
\node[bl, anchor=east] at (axis cs:-0.033,-2) {developmental process};
\node[bl, anchor=east] at (axis cs:-0.033,-3) {cell-cell fusion};
\node[bl, anchor=east] at (axis cs:-0.033,-4) {nucleic acid phosphodiester bond hydrolysis};
\node[bl, anchor=east] at (axis cs:-0.033,-5) {DNA recombination};
\node[bl, anchor=east] at (axis cs:-0.033,-6) {cell cycle phase transition};
\node[bl, anchor=east] at (axis cs:-0.033,-7) {DNA biosynthetic process};
\node[bl, anchor=east] at (axis cs:-0.033,-8) {cell division};
\node[bl, anchor=east] at (axis cs:-0.033,-9) {transposition};
\node[bl, anchor=west] at (axis cs:0.04,-10) {RNA modification};
\node[bl, anchor=west] at (axis cs:0.04,-11) {negative regulation of gene expression};
\node[bl, anchor=west] at (axis cs:0.04,-12) {organophosphate metabolic process};
\node[bl, anchor=west] at (axis cs:0.04,-13) {transmembrane transport};
\node[bl, anchor=west] at (axis cs:0.04,-14) {pigment metabolic process};
\node[bl, anchor=west] at (axis cs:0.04,-15) {response to drug};
\node[bl, anchor=west] at (axis cs:0.04,-16) {oxidation-reduction process};
\node[bl, anchor=west] at (axis cs:0.04,-17) {import into cell};
\node[bl, anchor=west] at (axis cs:0.04,-18) {homeostatic process};
\node[bl, anchor=west] at (axis cs:0.04,-19) {cofactor transport};
\node[bl, anchor=center, yshift=-25bp] at (axis cs:0,-19.75) {Normalized Enrichment Score};
\end{axis}
% ---------------- panel letters, titles, legends
\node[font=\fs{32}] at (23bp,-20bp) {a};
\node[font=\fs{32}] at (577bp,-18bp) {b};
\node[font=\fs{32}] at (22bp,-462bp) {c};
\node[font=\fs{32}] at (22bp,-983bp) {d};
\node[font=\fs{33}] at (600bp,-496bp) {KEGG pathways};
\node[font=\fs{33}] at (592bp,-998bp) {GO: Biological Process};
\fill[kdb] (78bp,-493.5bp) rectangle (99bp,-505bp);
\fill[kdo] (101bp,-493.5bp) rectangle (122bp,-505bp);
\node[anchor=west, inner sep=0pt, font=\legserif\fs{12.5}, text=black!75] at (125bp,-499.5bp) {FDR ≤ 0.05};
\fill[klb] (208bp,-493.5bp) rectangle (229bp,-505bp);
\fill[klo] (231bp,-493.5bp) rectangle (252bp,-505bp);
\node[anchor=west, inner sep=0pt, font=\legserif\fs{12.5}, text=black!75] at (256bp,-499.5bp) {FDR > 0.05};
\fill[kdb] (81bp,-1006.5bp) rectangle (102bp,-1018bp);
\fill[kdo] (104bp,-1006.5bp) rectangle (125bp,-1018bp);
\node[anchor=west, inner sep=0pt, font=\legserif\fs{12.5}, text=black!75] at (129bp,-1012.5bp) {FDR ≤ 0.05};
\fill[klb] (212bp,-1006.5bp) rectangle (233bp,-1018bp);
\fill[klo] (235bp,-1006.5bp) rectangle (256bp,-1018bp);
\node[anchor=west, inner sep=0pt, font=\legserif\fs{12.5}, text=black!75] at (260bp,-1012.5bp) {FDR > 0.05};
\end{tikzpicture}
\end{document}
